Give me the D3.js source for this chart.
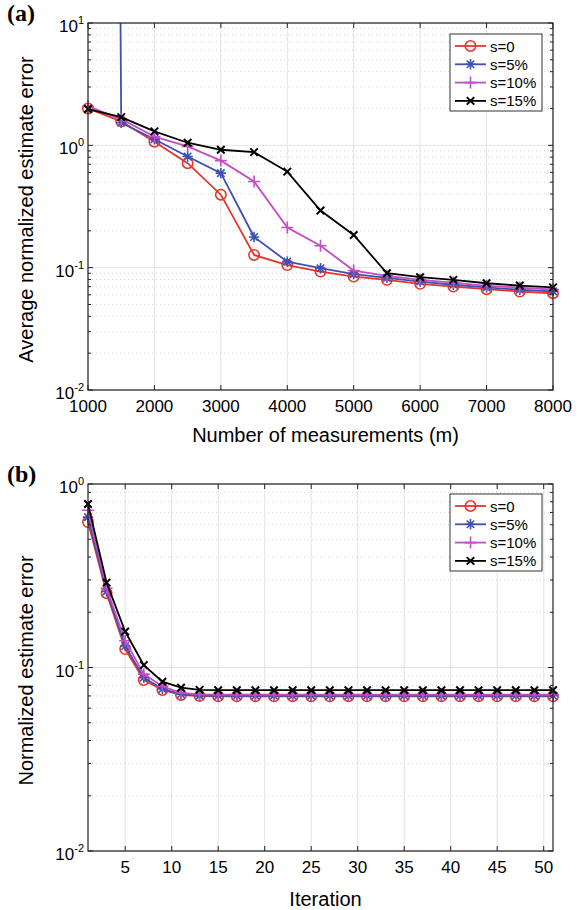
<!DOCTYPE html>
<html>
<head>
<meta charset="utf-8">
<script src="https://cdn.jsdelivr.net/npm/d3@7/dist/d3.min.js"></script>
<style>
  body { margin: 0; background: #fff; }
  text { font-family: "Liberation Sans", Arial, Helvetica, sans-serif; fill: #000; }
  text.panel { font-family: "Liberation Serif", "Times New Roman", serif; font-weight: bold; }
</style>
</head>
<body>
<svg width="579" height="910"></svg>
<script>
var svg = d3.select("svg");

// ---- data, panel (a) ----
var measurements = [1000, 1500, 2000, 2500, 3000, 3500, 4000, 4500, 5000, 5500, 6000, 6500, 7000, 7500, 8000];
var errA_s0  = [2.0, 1.57, 1.07, 0.715, 0.395, 0.127, 0.105, 0.093, 0.0846, 0.0795, 0.0738, 0.070, 0.0667, 0.0638, 0.0618];
var errA_s5  = [1e40, 1.53, 1.12, 0.81, 0.593, 0.178, 0.112, 0.099, 0.0885, 0.0825, 0.077, 0.0725, 0.069, 0.066, 0.064];
var errA_s10 = [2.08, 1.64, 1.18, 0.98, 0.75, 0.506, 0.213, 0.151, 0.0947, 0.0857, 0.0795, 0.0755, 0.0711, 0.0688, 0.0663];
var errA_s15 = [1.98, 1.70, 1.30, 1.05, 0.92, 0.88, 0.61, 0.293, 0.185, 0.090, 0.0836, 0.0795, 0.0746, 0.0714, 0.069];

// ---- data, panel (b) ----
var iterations = [1, 3, 5, 7, 9, 11, 13, 15, 17, 19, 21, 23, 25, 27, 29, 31, 33, 35, 37, 39, 41, 43, 45, 47, 49, 51];
var errB_s0  = [0.62, 0.254, 0.126, 0.0855, 0.0754, 0.0709, 0.0699, 0.0697, 0.0697, 0.0697, 0.0697, 0.0697, 0.0697, 0.0697, 0.0697, 0.0697, 0.0697, 0.0697, 0.0697, 0.0697, 0.0697, 0.0697, 0.0697, 0.0697, 0.0697, 0.0697];
var errB_s5  = [0.66, 0.26, 0.131, 0.088, 0.0765, 0.0715, 0.0703, 0.0701, 0.0701, 0.0701, 0.0701, 0.0701, 0.0701, 0.0701, 0.0701, 0.0701, 0.0701, 0.0701, 0.0701, 0.0701, 0.0701, 0.0701, 0.0701, 0.0701, 0.0701, 0.0701];
var errB_s10 = [0.72, 0.27, 0.14, 0.092, 0.079, 0.0728, 0.0713, 0.0711, 0.0711, 0.0711, 0.0711, 0.0711, 0.0711, 0.0711, 0.0711, 0.0711, 0.0711, 0.0711, 0.0711, 0.0711, 0.0711, 0.0711, 0.0711, 0.0711, 0.0711, 0.0711];
var errB_s15 = [0.778, 0.29, 0.157, 0.103, 0.0837, 0.0776, 0.0755, 0.0752, 0.0752, 0.0752, 0.0752, 0.0752, 0.0752, 0.0752, 0.0752, 0.0752, 0.0752, 0.0752, 0.0752, 0.0752, 0.0752, 0.0752, 0.0752, 0.0752, 0.0752, 0.0752];

var seriesNames = ["s=0", "s=5%", "s=10%", "s=15%"];
var seriesColors = ["#e5352b", "#3d50b3", "#c14ec2", "#000000"];
var seriesMarkers = ["o", "*", "+", "x"];

var ticksA = [1000, 2000, 3000, 4000, 5000, 6000, 7000, 8000];
var ticksB = [5, 10, 15, 20, 25, 30, 35, 40, 45, 50];

function markerPath(type, s) {
  var p = d3.path();
  if (type == "+" || type == "*") {
    p.moveTo(-s, 0); p.lineTo(s, 0);
    p.moveTo(0, -s); p.lineTo(0, s);
  }
  if (type == "x" || type == "*") {
    var k = s * 0.72;
    p.moveTo(-k, -k); p.lineTo(k, k);
    p.moveTo(-k, k); p.lineTo(k, -k);
  }
  return p.toString();
}

function drawMarker(sel, type, color) {
  if (type == "o") {
    sel.append("circle").attr("r", 5.2).attr("fill", "none")
      .attr("stroke", color).attr("stroke-width", 1.6);
  } else {
    var s = type == "+" ? 6 : 5.2;
    sel.append("path").attr("d", markerPath(type, s)).attr("fill", "none")
      .attr("stroke", color).attr("stroke-width", type == "x" ? 2 : 1.6);
  }
}

function drawPanel(opt) {
  var x = d3.scaleLinear().domain(opt.xDomain).range([opt.left, opt.right]);
  var y = d3.scaleLog().domain(opt.yDomain).range([opt.bottom, opt.top]);
  var g = svg.append("g");

  var allTicks = y.ticks();
  var isMajor = function(v) { return Math.abs(Math.log10(v) - Math.round(Math.log10(v))) < 1e-6; };
  var minorY = allTicks.filter(function(v) { return !isMajor(v); });
  var majorY = allTicks.filter(isMajor);

  // grid
  g.selectAll(".minorgrid").data(minorY).enter().append("line")
    .attr("x1", opt.left).attr("x2", opt.right)
    .attr("y1", function(d) { return y(d); }).attr("y2", function(d) { return y(d); })
    .attr("stroke", "#c8c8c8").attr("stroke-width", 0.8).attr("stroke-dasharray", "1,3");
  g.selectAll(".majorgridy").data(majorY).enter().append("line")
    .attr("x1", opt.left).attr("x2", opt.right)
    .attr("y1", function(d) { return y(d); }).attr("y2", function(d) { return y(d); })
    .attr("stroke", "#e3e3e3").attr("stroke-width", 1);
  g.selectAll(".majorgridx").data(opt.xTicks).enter().append("line")
    .attr("y1", opt.top).attr("y2", opt.bottom)
    .attr("x1", function(d) { return x(d); }).attr("x2", function(d) { return x(d); })
    .attr("stroke", "#e3e3e3").attr("stroke-width", 1);

  // lines
  var clipId = "clip" + opt.id;
  svg.append("clipPath").attr("id", clipId).append("rect")
    .attr("x", opt.left - 8).attr("y", opt.top).attr("width", opt.right - opt.left + 16)
    .attr("height", opt.bottom - opt.top + 8);
  var plot = g.append("g").attr("clip-path", "url(#" + clipId + ")");

  opt.series.forEach(function(vals, i) {
    var pts = vals.map(function(v, j) { return [opt.xs[j], v]; });
    var line = d3.line()
      .x(function(d) { return x(d[0]); })
      .y(function(d) { return Math.max(-50000, y(d[1])); });
    plot.append("path").datum(pts).attr("d", line).attr("fill", "none")
      .attr("stroke", seriesColors[i]).attr("stroke-width", 1.8);
    pts.forEach(function(d) {
      if (y(d[1]) < opt.top - 5) return;
      var m = plot.append("g").attr("transform", "translate(" + x(d[0]) + "," + y(d[1]) + ")");
      drawMarker(m, seriesMarkers[i], seriesColors[i]);
    });
  });

  // box and ticks (inward)
  g.append("rect").attr("x", opt.left).attr("y", opt.top)
    .attr("width", opt.right - opt.left).attr("height", opt.bottom - opt.top)
    .attr("fill", "none").attr("stroke", "#222").attr("stroke-width", 1.2);

  opt.xTicks.forEach(function(t) {
    var px = x(t);
    g.append("line").attr("x1", px).attr("x2", px).attr("y1", opt.bottom).attr("y2", opt.bottom - 5).attr("stroke", "#222");
    g.append("line").attr("x1", px).attr("x2", px).attr("y1", opt.top).attr("y2", opt.top + 5).attr("stroke", "#222");
    g.append("text").attr("x", px).attr("y", opt.bottom + 22).attr("text-anchor", "middle")
      .attr("font-size", 17).text(t);
  });
  allTicks.forEach(function(t) {
    var py = y(t);
    var len = isMajor(t) ? 5 : 3;
    g.append("line").attr("x1", opt.left).attr("x2", opt.left + len).attr("y1", py).attr("y2", py).attr("stroke", "#222");
    g.append("line").attr("x1", opt.right).attr("x2", opt.right - len).attr("y1", py).attr("y2", py).attr("stroke", "#222");
  });
  majorY.forEach(function(t) {
    var py = y(t);
    var t1 = g.append("text").attr("x", opt.left - 4).attr("y", py + 9).attr("text-anchor", "end");
    t1.append("tspan").attr("font-size", 17).text("10");
    t1.append("tspan").attr("font-size", 11).attr("dy", -8).text(Math.round(Math.log10(t)));
  });

  // axis labels
  g.append("text").attr("x", (opt.left + opt.right) / 2 + 5).attr("y", opt.xLabelY)
    .attr("text-anchor", "middle").attr("font-size", 20).text(opt.xLabel);
  g.append("text").attr("transform", "translate(33," + ((opt.top + opt.bottom) / 2 + 3) + ") rotate(-90)")
    .attr("text-anchor", "middle").attr("font-size", 20).text(opt.yLabel);

  // panel label
  g.append("text").attr("class", "panel").attr("x", 7).attr("y", opt.top - 2)
    .attr("font-size", 24).text(opt.panel);

  // legend
  var lg = g.append("g");
  lg.append("rect").attr("x", opt.legX).attr("y", opt.legY).attr("width", 92).attr("height", 77)
    .attr("fill", "#fff").attr("stroke", "#333").attr("stroke-width", 1);
  seriesNames.forEach(function(name, i) {
    var ly = opt.legY + 12 + i * 18.3;
    lg.append("line").attr("x1", opt.legX + 5).attr("x2", opt.legX + 36).attr("y1", ly).attr("y2", ly)
      .attr("stroke", seriesColors[i]).attr("stroke-width", 1.8);
    var m = lg.append("g").attr("transform", "translate(" + (opt.legX + 20.5) + "," + ly + ")");
    drawMarker(m, seriesMarkers[i], seriesColors[i]);
    lg.append("text").attr("x", opt.legX + 40).attr("y", ly + 5.5).attr("font-size", 15).text(name);
  });
}

drawPanel({
  id: "a", panel: "(a)",
  left: 88, right: 553, top: 23, bottom: 390,
  xDomain: [1000, 8000], yDomain: [0.01, 10],
  xs: measurements, series: [errA_s0, errA_s5, errA_s10, errA_s15],
  xTicks: ticksA,
  xLabel: "Number of measurements (m)", xLabelY: 442,
  yLabel: "Average normalized estimate error",
  legX: 450, legY: 34
});

drawPanel({
  id: "b", panel: "(b)",
  left: 88, right: 553, top: 484, bottom: 851,
  xDomain: [1, 51], yDomain: [0.01, 1],
  xs: iterations, series: [errB_s0, errB_s5, errB_s10, errB_s15],
  xTicks: ticksB,
  xLabel: "Iteration", xLabelY: 906,
  yLabel: "Normalized estimate error",
  legX: 450, legY: 494
});
</script>
</body>
</html>
